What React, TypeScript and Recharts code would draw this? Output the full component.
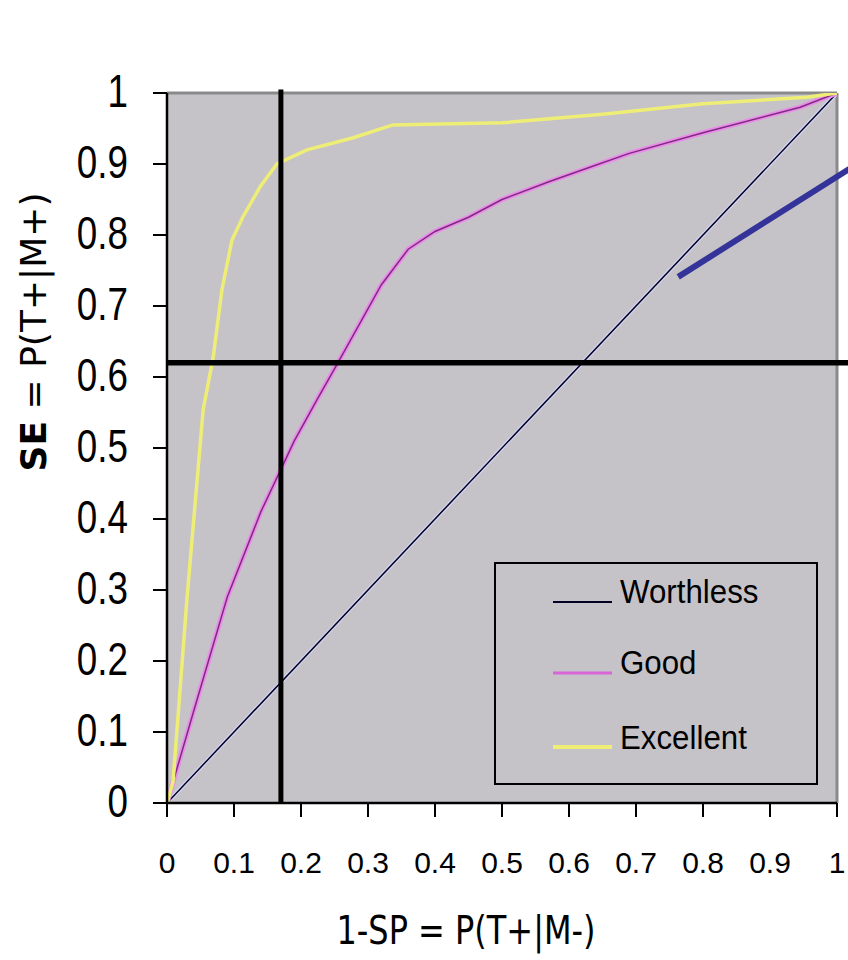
import React from "react";
import { LineChart, Line, XAxis, YAxis, CartesianGrid, ReferenceLine, Legend } from "recharts";

// axis ticks
const xTicks = [0, 0.1, 0.2, 0.3, 0.4, 0.5, 0.6, 0.7, 0.8, 0.9, 1];
const yTicks = [0, 0.1, 0.2, 0.3, 0.4, 0.5, 0.6, 0.7, 0.8, 0.9, 1];

// ROC curves (1-SP on x, SE on y)
const worthlessX = [0, 1];
const worthlessY = [0, 1];

const goodX = [0, 0.04, 0.09, 0.14, 0.19, 0.225, 0.255, 0.32, 0.36, 0.4, 0.45, 0.5, 0.57, 0.63, 0.69, 0.8, 0.945, 1];
const goodY = [0, 0.13, 0.29, 0.41, 0.51, 0.57, 0.62, 0.73, 0.78, 0.805, 0.825, 0.85, 0.875, 0.895, 0.915, 0.944, 0.98, 1];

const excellentX = [0, 0.009, 0.03, 0.054, 0.069, 0.082, 0.097, 0.113, 0.139, 0.164, 0.209, 0.278, 0.337, 0.5, 0.65, 0.8, 0.955, 1];
const excellentY = [0, 0.03, 0.29, 0.554, 0.628, 0.723, 0.793, 0.825, 0.868, 0.9, 0.92, 0.937, 0.955, 0.958, 0.97, 0.985, 0.994, 1];

const seriesNames = ["Worthless", "Good", "Excellent"];

// cut-off lines and the pointer
const cutoffX = 0.17;
const cutoffY = 0.62;
const pointerX = [0.763, 1.03];
const pointerY = [0.741, 0.9];

const plotFill = "#c5c3c8";
const tickFont = "'Liberation Sans', Arial, sans-serif";
const titleFont = "'DejaVu Sans', 'Comic Sans MS', sans-serif";

const toPoints = (xs: number[], ys: number[]) => xs.map((x, i) => ({ x, y: ys[i] }));

const worthlessData = toPoints(worthlessX, worthlessY);
const goodData = toPoints(goodX, goodY);
const excellentData = toPoints(excellentX, excellentY);

function XTick({ x, y, payload }: any) {
  return (
    <text x={x} y={y} dy="0.36em" textAnchor="middle" fontFamily={tickFont} fontSize={30} fill="#000">
      {payload.value}
    </text>
  );
}

function YTick({ x, y, payload }: any) {
  return (
    <g transform={`translate(${x},${y - 3}) scale(0.8,1)`}>
      <text x={0} y={0} dy="0.36em" textAnchor="end" fontFamily={tickFont} fontSize={46} fill="#000">
        {payload.value}
      </text>
    </g>
  );
}

function XTitle({ viewBox }: any) {
  const cx = viewBox.x + 299;
  const cy = viewBox.y + 127;
  return (
    <g transform={`translate(${cx},${cy}) scale(1,1.2)`}>
      <text x={0} y={0} dy="0.36em" textAnchor="middle" fontFamily={titleFont} fontSize={32} fill="#000">
        1-SP = P(T+|M-)
      </text>
    </g>
  );
}

function YTitle({ viewBox }: any) {
  const cx = viewBox.x + 33;
  const cy = viewBox.y + 239;
  return (
    <text
      x={cx}
      y={cy}
      dy="0.36em"
      textAnchor="middle"
      transform={`rotate(-90,${cx},${cy})`}
      fontFamily={titleFont}
      fontSize={36}
      fill="#000"
    >
      <tspan fontWeight="bold">SE</tspan>
      <tspan> = P(T+|M+)</tspan>
    </text>
  );
}

function LegendBox() {
  const rows = [
    { lineY: 40, textY: 29, color: "#000022", width: 2 },
    { lineY: 111, textY: 100, color: "#d866d8", width: 3 },
    { lineY: 185, textY: 175, color: "#eeee77", width: 4 },
  ];
  return (
    <svg width={324} height={223} style={{ display: "block" }}>
      <rect x={1} y={1} width={322} height={221} fill={plotFill} stroke="#000" strokeWidth={2} />
      {rows.map((r, i) => (
        <g key={seriesNames[i]}>
          <line x1={59} x2={118} y1={r.lineY} y2={r.lineY} stroke={r.color} strokeWidth={r.width} />
          <g transform={`translate(126,${r.textY}) scale(0.92,1)`}>
            <text x={0} y={0} dy="0.36em" fontFamily={tickFont} fontSize={34} fill="#000">
              {seriesNames[i]}
            </text>
          </g>
        </g>
      ))}
    </svg>
  );
}

export default function App() {
  return (
    <div style={{ position: "absolute", left: 0, top: 0, width: 848, height: 960, background: "#fff" }}>
      <LineChart width={848} height={960} margin={{ top: 93, right: 11, bottom: 0, left: 0 }}>
        <CartesianGrid horizontal={false} vertical={false} fill={plotFill} stroke="none" />
        <XAxis
          type="number"
          dataKey="x"
          domain={[0, 1]}
          ticks={xTicks}
          allowDataOverflow
          height={157}
          tickSize={14}
          tickMargin={45}
          tick={<XTick />}
          axisLine={{ stroke: "#000", strokeWidth: 2.5 }}
          tickLine={{ stroke: "#000", strokeWidth: 2 }}
          label={(props: any) => <XTitle viewBox={props.viewBox} />}
        />
        <YAxis
          type="number"
          dataKey="y"
          domain={[0, 1]}
          ticks={yTicks}
          allowDataOverflow
          width={167}
          tickSize={14}
          tickMargin={25}
          tick={<YTick />}
          axisLine={{ stroke: "#000", strokeWidth: 2.5 }}
          tickLine={{ stroke: "#000", strokeWidth: 2 }}
          label={(props: any) => <YTitle viewBox={props.viewBox} />}
        />
        <ReferenceLine y={1} stroke="#8a8a8a" strokeWidth={3} />
        <ReferenceLine x={1} stroke="#8a8a8a" strokeWidth={3} />

        <Line data={worthlessData} dataKey="y" type="linear" stroke="#d4d4f2" strokeWidth={4} dot={false} activeDot={false} isAnimationActive={false} />
        <Line data={worthlessData} dataKey="y" type="linear" stroke="#000022" strokeWidth={1.5} dot={false} activeDot={false} isAnimationActive={false} />
        <Line data={goodData} dataKey="y" type="linear" stroke="#ea8cea" strokeWidth={5} dot={false} activeDot={false} isAnimationActive={false} />
        <Line data={goodData} dataKey="y" type="linear" stroke="#7e2a7e" strokeWidth={1.5} dot={false} activeDot={false} isAnimationActive={false} />
        <Line data={excellentData} dataKey="y" type="linear" stroke="#eeee77" strokeWidth={3.5} dot={false} activeDot={false} isAnimationActive={false} />

        <ReferenceLine
          segment={[{ x: cutoffX, y: 0 }, { x: cutoffX, y: 1.005 }]}
          ifOverflow="visible"
          stroke="#000"
          strokeWidth={5}
        />
        <ReferenceLine
          segment={[{ x: 0, y: cutoffY }, { x: 1.03, y: cutoffY }]}
          ifOverflow="visible"
          stroke="#000"
          strokeWidth={5.5}
        />
        <ReferenceLine
          segment={[{ x: pointerX[0], y: pointerY[0] }, { x: pointerX[1], y: pointerY[1] }]}
          ifOverflow="visible"
          stroke="#333399"
          strokeWidth={6}
        />
        <Legend
          layout="vertical"
          align="center"
          verticalAlign="middle"
          wrapperStyle={{ left: 494, top: 562, width: 324, height: 223 }}
          content={() => <LegendBox />}
        />
      </LineChart>
    </div>
  );
}
